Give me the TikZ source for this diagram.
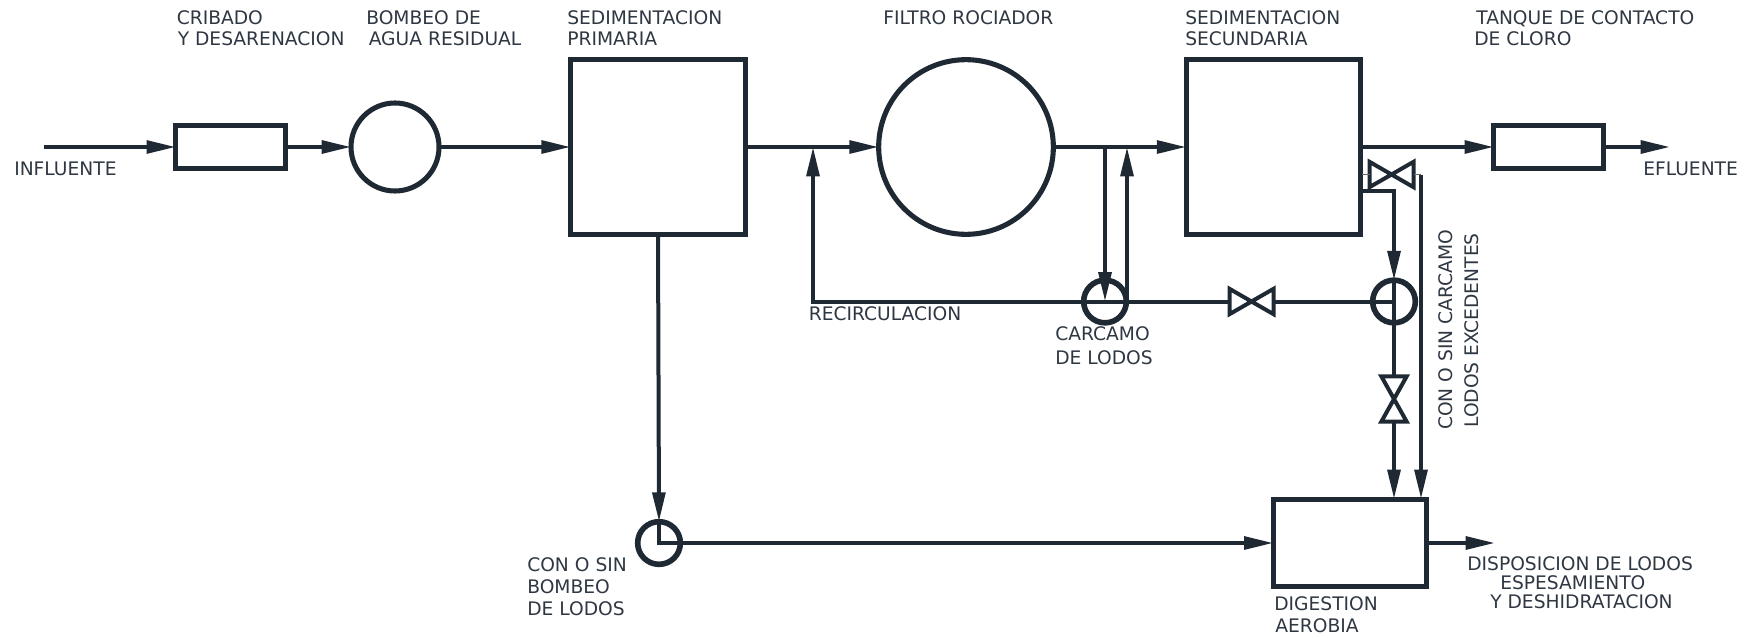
\documentclass[tikz,border=0pt]{standalone}
\usepackage{fontspec}
\setmainfont{DejaVu Sans}
\usetikzlibrary{calc}
\usetikzlibrary{positioning}
\usetikzlibrary{arrows.meta}

\definecolor{ink}{HTML}{1F2933}
\definecolor{inktext}{HTML}{2E3742}

\begin{document}
\begin{tikzpicture}[%
  x=0.75pt, y=-0.75pt,
  >={Triangle[length=22pt,width=9.5pt]},
  pipe/.style={draw=ink, line width=3pt},
  thinpipe/.style={draw=ink!70, line width=1pt},
  unit/.style={draw=ink, line width=3.8pt, inner sep=0pt, outer sep=0pt},
  ring/.style={unit, circle},
  pumpring/.style={ring, line width=4.2pt, minimum size=32pt},
  valveh/.style={inner sep=0pt, outer sep=0pt, minimum width=33pt, minimum height=19pt},
  valvev/.style={inner sep=0pt, outer sep=0pt, minimum width=19pt, minimum height=34pt},
  tag/.style={anchor=base west, inner sep=0pt, text=inktext, font=\fontsize{14}{16}\selectfont},
  tagv/.style={tag, rotate=90},
]

  \useasboundingbox (0,0) rectangle (1751,638);

  \node[unit, minimum width=82pt, minimum height=32pt] (crib) at (230.5,147) {};
  \node[ring, minimum size=66pt] (bomb) at (395,147) {};
  \node[unit, minimum size=131pt] (prim) at (658,147) {};
  \node[ring, minimum size=131pt] (filt) at (966,147) {};
  \node[unit, minimum size=131pt] (sec) at (1273.5,147) {};
  \node[unit, minimum width=82pt, minimum height=32pt] (tanq) at (1548.5,147) {};
  \node[unit, minimum width=115pt, minimum height=65pt] (dig) at (1350,543) {};

  \node[pumpring] (pa) at (659,543) {};
  \node[pumpring] (pb) at (1105,301.5) {};
  \node[pumpring] (pc) at (1394,301.5) {};

  \node[valveh] (va) at (1391.5,174.5) {};
  \node[valveh] (vb) at (1251.5,301.5) {};
  \node[valvev] (vc) at (1394,399) {};

  \coordinate (in) at (44,147);
  \coordinate (ef) at (1670,147);
  \coordinate (dl) at (1495,543);
  \coordinate (c0) at (813,301.5);
  \coordinate (j0) at (813,147);
  \coordinate (j1) at (1105,147);
  \coordinate (j2) at (1127,147);
  \coordinate (j3) at (1127,301.5);
  \coordinate (s0) at (1362,190.5);
  \coordinate (s1) at (1394,190.5);
  \coordinate (s2) at (1362,174.5);
  \coordinate (e0) at (1421,174.5);
  \coordinate (d0) at (1421,499);
  \coordinate (d1) at (1394,499);

  \foreach \vn in {va,vb}
    \draw[pipe] (\vn.north west) -- (\vn.south east) -- (\vn.north east) -- (\vn.south west) -- cycle;
  \draw[pipe] (vc.north west) -- (vc.south east) -- (vc.south west) -- (vc.north east) -- cycle;

  \draw[pipe,->] (in) -- (crib.west);
  \draw[pipe,->] (crib.east) -- (bomb.west);
  \draw[pipe,->] (bomb.east) -- (prim.west);
  \draw[pipe,->] (prim.east) -- (filt.west);
  \draw[pipe,->] (filt.east) -- (sec.west);
  \draw[pipe,->] (sec.east) -- (tanq.west);
  \draw[pipe,->] (tanq.east) -- (ef);
  \draw[pipe,->] (dig.east) -- (dl);

  \draw[pipe,->] (prim.south) -- (pa.north);
  \draw[pipe,->] (pa.north) -- (pa.center) -- (dig.west);

  \draw[pipe,->] (vb.west) -- (c0) -- (j0);
  \draw[pipe] (vb.east) -- (pc.center);
  \draw[pipe,->] (j1) -- (pb.center);
  \draw[pipe,->] (j3) -- (j2);

  \draw[pipe,->] (s0) -- (s1) -- (pc.north);
  \draw[pipe] (pc.north) -- (vc.north);
  \draw[pipe,->] (vc.south) -- (d1);
  \draw[thinpipe] (s2) -- (va.west);
  \draw[thinpipe] (va.east) -- (e0);
  \draw[pipe,->] (e0) -- (d0);

  \node[tag] (t0) at (176.5,24.5) {CRIBADO};
  \node[tag] (t1) at (177.5,45.5) {Y DESARENACION};
  \node[tag] (t2) at (366,24.5) {BOMBEO DE};
  \node[tag] (t3) at (368.5,45.5) {AGUA RESIDUAL};
  \node[tag] (t4) at (567,24.5) {SEDIMENTACION};
  \node[tag] (t5) at (567,45.5) {PRIMARIA};
  \node[tag] (t6) at (883,24.5) {FILTRO ROCIADOR};
  \node[tag] (t7) at (1185,24.5) {SEDIMENTACION};
  \node[tag] (t8) at (1185,45.5) {SECUNDARIA};
  \node[tag] (t9) at (1476,24.5) {TANQUE DE CONTACTO};
  \node[tag] (t10) at (1474,45.5) {DE CLORO};
  \node[tag] (t11) at (14,175.5) {INFLUENTE};
  \node[tag] (t12) at (1643,175.5) {EFLUENTE};
  \node[tag] (t13) at (808.5,320.5) {RECIRCULACION};
  \node[tag] (t14) at (1055,340.5) {CARCAMO};
  \node[tag] (t15) at (1055,364) {DE LODOS};
  \node[tag] (t16) at (527,571.5) {CON O SIN};
  \node[tag] (t17) at (527,593) {BOMBEO};
  \node[tag] (t18) at (527,615) {DE LODOS};
  \node[tag] (t19) at (1274,610) {DIGESTION};
  \node[tag] (t20) at (1275,632) {AEROBIA};
  \node[tag] (t21) at (1467,570.5) {DISPOSICION DE LODOS};
  \node[tag] (t22) at (1500,589) {ESPESAMIENTO};
  \node[tag] (t23) at (1490,608) {Y DESHIDRATACION};
  \node[tagv] (t24) at (1452,430) {CON O SIN CARCAMO};
  \node[tagv] (t25) at (1478,428) {LODOS EXCEDENTES};

\end{tikzpicture}
\end{document}
